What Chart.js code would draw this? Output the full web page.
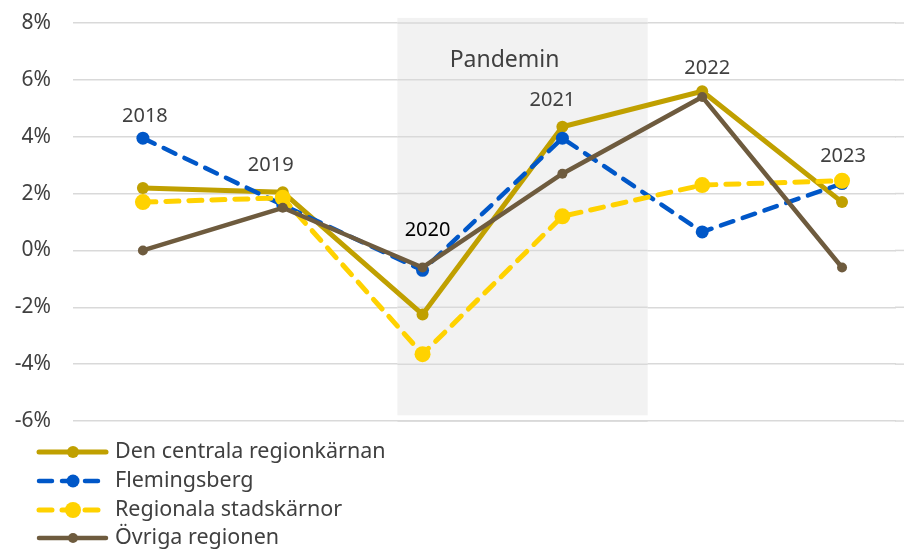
<!DOCTYPE html>
<html>
<head>
<meta charset="utf-8">
<script src="https://cdn.jsdelivr.net/npm/chart.js@4"></script>
<style>
html,body{margin:0;padding:0;background:#fff;overflow:hidden;}
canvas{display:block;}
</style>
</head>
<body>
<canvas id="c" width="904" height="550"></canvas>
<script>
const years = ['2018','2019','2020','2021','2022','2023'];
const centrala = [2.2, 2.05, -2.25, 4.35, 5.6, 1.7];
const flemingsberg = [3.95, 1.6, -0.7, 3.95, 0.65, 2.35];
const regionala = [1.7, 1.85, -3.65, 1.2, 2.3, 2.45];
const ovriga = [0.0, 1.5, -0.6, 2.7, 5.4, -0.6];
const seriesNames = ['Den centrala regionkärnan','Flemingsberg','Regionala stadskärnor','Övriga regionen'];
const yTicks = [-6,-4,-2,0,2,4,6,8];
const pandemicLabel = 'Pandemin';
const pandemicRange = [2019.82, 2021.61];

const FONT = '"Noto Sans", sans-serif';

const bandPlugin = {
  id: 'band',
  beforeDatasetsDraw(chart) {
    const {ctx, scales:{x,y}, chartArea} = chart;
    ctx.save();
    ctx.strokeStyle = '#D9D9D9';
    ctx.lineWidth = 1.5;
    // extend gridlines to canvas edge
    yTicks.forEach(t => {
      const py = y.getPixelForValue(t);
      ctx.beginPath(); ctx.moveTo(chartArea.right - 1, py); ctx.lineTo(chart.width, py); ctx.stroke();
    });
    const x0 = x.getPixelForValue(pandemicRange[0]);
    const x1 = x.getPixelForValue(pandemicRange[1]);
    const y0 = y.getPixelForValue(8.18);
    const y1 = y.getPixelForValue(-5.8);
    ctx.fillStyle = '#F2F2F2';
    ctx.fillRect(x0, y0, x1 - x0, y1 - y0);
    yTicks.forEach(t => {
      const py = y.getPixelForValue(t);
      ctx.beginPath(); ctx.moveTo(x0, py); ctx.lineTo(x1, py); ctx.stroke();
    });
    ctx.fillStyle = '#404040';
    ctx.font = '23px ' + FONT;
    ctx.textAlign = 'center';
    ctx.textBaseline = 'middle';
    ctx.fillText(pandemicLabel, (x0 + x1) / 2 - 18, y.getPixelForValue(6.69));
    ctx.restore();
  }
};

const yearLabelPlugin = {
  id: 'yearLabels',
  afterDatasetsDraw(chart, args, opts) {
    const {ctx, scales:{x,y}} = chart;
    ctx.save();
    ctx.font = '20px ' + FONT;
    ctx.textAlign = 'center';
    ctx.textBaseline = 'middle';
    years.forEach((yr, i) => {
      const top = Math.max(centrala[i], flemingsberg[i], regionala[i], ovriga[i]);
      const px = x.getPixelForValue(Number(yr)) + opts.dx[i];
      const py = y.getPixelForValue(top) - opts.dy[i];
      ctx.fillStyle = opts.colors[i];
      ctx.fillText(yr, px, py);
    });
    ctx.restore();
  }
};

const legendPlugin = {
  id: 'customLegend',
  afterDraw(chart) {
    const {ctx} = chart;
    ctx.save();
    const rows = [452, 481, 510, 538];
    chart.data.datasets.forEach((ds, i) => {
      const cy = rows[i];
      ctx.strokeStyle = ds.borderColor;
      ctx.lineWidth = ds.borderWidth;
      ctx.lineCap = 'round';
      ctx.setLineDash(ds.borderDash || []);
      ctx.beginPath(); ctx.moveTo(39, cy); ctx.lineTo(106, cy); ctx.stroke();
      ctx.setLineDash([]);
      ctx.fillStyle = ds.pointBackgroundColor;
      ctx.beginPath(); ctx.arc(73, cy, ds.pointRadius, 0, Math.PI * 2); ctx.fill();
      ctx.fillStyle = '#404040';
      ctx.font = '21.5px ' + FONT;
      ctx.textAlign = 'left';
      ctx.textBaseline = 'middle';
      ctx.fillText(ds.label, 115, cy);
    });
    ctx.restore();
  }
};

new Chart(document.getElementById('c'), {
  type: 'line',
  data: {
    labels: years,
    datasets: [
      {label: seriesNames[0], data: centrala, borderColor:'#C0A000', backgroundColor:'#C0A000', pointBackgroundColor:'#C0A000', pointBorderWidth:0, pointRadius:6, borderWidth:5, order:4, borderCapStyle:'round'},
      {label: seriesNames[1], data: flemingsberg, borderColor:'#0057C8', backgroundColor:'#0057C8', pointBackgroundColor:'#0057C8', pointBorderWidth:0, pointRadius:6.5, borderWidth:4.5, borderDash:[13,10], borderCapStyle:'round', order:3},
      {label: seriesNames[2], data: regionala, borderColor:'#FFD200', backgroundColor:'#FFD200', pointBackgroundColor:'#FFD200', pointBorderWidth:0, pointRadius:8, borderWidth:5, borderDash:[13,10], borderCapStyle:'round', order:2},
      {label: seriesNames[3], data: ovriga, borderColor:'#6E5B3E', backgroundColor:'#6E5B3E', pointBackgroundColor:'#6E5B3E', pointBorderWidth:0, pointRadius:5, borderWidth:4.5, order:1, borderCapStyle:'round'}
    ]
  },
  options: {
    responsive: false,
    animation: false,
    layout: {padding: {top: 23, bottom: 129, left: 0, right: 0}},
    plugins: {
      legend: {display: false},
      tooltip: {enabled: false},
      yearLabels: {
        dx: [2, -12, 5, -10, 5, 1],
        dy: [22, 27, 37, 26, 23, 24],
        colors: ['#404040','#404040','#000000','#404040','#404040','#404040']
      }
    },
    scales: {
      x: {type:'linear', display:false, min: 2017.5, max: 2023.386, grid:{display:false}},
      y: {
        min: -6, max: 8,
        afterFit(s){ s.width = 73; s.paddingTop = 0; s.paddingBottom = 0; },
        border: {display:false},
        grid: {color:'#D9D9D9', lineWidth:1.5, drawTicks:false},
        ticks: {
          stepSize: 2, padding: 22, color:'#404040',
          font: {size: 21, family: FONT},
          callback: v => v + '%'
        }
      }
    }
  },
  plugins: [bandPlugin, yearLabelPlugin, legendPlugin]
});
</script>
</body>
</html>
